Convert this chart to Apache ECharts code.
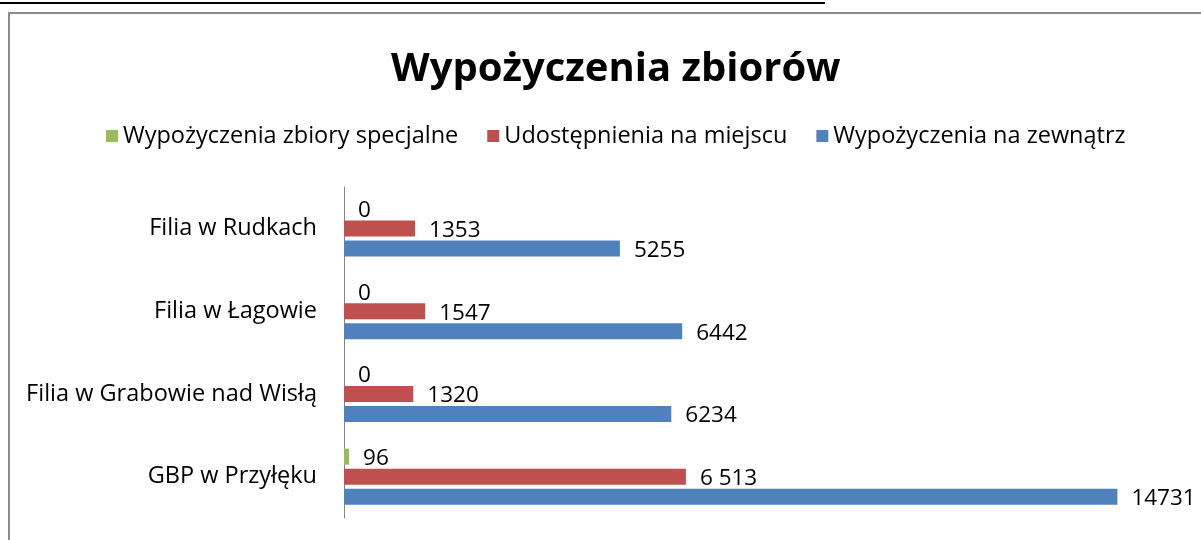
<!DOCTYPE html>
<html>
<head>
<meta charset="utf-8">
<script src="https://cdn.jsdelivr.net/npm/echarts@6/dist/echarts.min.js"></script>
<style>
  html, body { margin: 0; padding: 0; background: #fff; }
  #main { width: 1201px; height: 540px; }
</style>
</head>
<body>
<div id="main"></div>
<script>
// categories listed bottom -> top (category axis starts at the bottom)
const categories = ['GBP w Przyłęku', 'Filia w Grabowie nad Wisłą', 'Filia w Łagowie', 'Filia w Rudkach'];
const seriesNames = ['Wypożyczenia zbiory specjalne', 'Udostępnienia na miejscu', 'Wypożyczenia na zewnątrz'];

const specjalne = [96, 0, 0, 0];
const naMiejscu = [6513, 1320, 1547, 1353];
const naZewnatrz = [14731, 6234, 6442, 5255];
const naMiejscuLabels = ['6 513', '1320', '1547', '1353'];

const colors = ['#9BBB59', '#C0504D', '#4F81BD'];
const font = 'Open Sans';

const chart = echarts.init(document.getElementById('main'));

function makeSeries(name, data, color, labels) {
    return {
        name: name,
        type: 'bar',
        data: data,
        barWidth: 16,
        barGap: '25%',
        itemStyle: { color: color },
        label: {
            show: true,
            position: 'right',
            distance: 14,
            offset: [0, 2],
            color: '#000',
            fontFamily: font,
            fontSize: 22.5,
            formatter: labels ? (p => labels[p.dataIndex]) : '{c}'
        },
        emphasis: { disabled: true }
    };
}

chart.setOption({
    animation: false,
    title: {
        text: 'Wypożyczenia zbiorów',
        left: 386,
        top: 45,
        textStyle: { fontFamily: font, fontWeight: 'bold', fontSize: 40, color: '#000' }
    },
    legend: {
        data: seriesNames,
        top: 119,
        left: 101,
        itemWidth: 12,
        itemHeight: 12,
        itemGap: 29,
        icon: 'rect',
        textStyle: { fontFamily: font, fontSize: 23.5, color: '#000' }
    },
    grid: { left: 344, right: 17, top: 187, bottom: 22, containLabel: false },
    xAxis: {
        type: 'value',
        min: 0,
        max: 16000,
        show: false
    },
    yAxis: {
        type: 'category',
        data: categories,
        axisLine: { show: true, lineStyle: { color: '#868686', width: 1 } },
        axisTick: { show: false },
        axisLabel: { fontFamily: font, fontSize: 23.5, color: '#000', margin: 27 },
        splitLine: { show: false }
    },
    graphic: [
        {
            type: 'rect',
            shape: { x: 9, y: 13, width: 1400, height: 700 },
            style: { fill: 'none', stroke: '#8c8c8c', lineWidth: 2 }
        },
        {
            type: 'line',
            shape: { x1: 0, y1: 3, x2: 825, y2: 3 },
            style: { stroke: '#000', lineWidth: 2 }
        }
    ],
    series: [
        makeSeries(seriesNames[0], specjalne, colors[0]),
        makeSeries(seriesNames[1], naMiejscu, colors[1], naMiejscuLabels),
        makeSeries(seriesNames[2], naZewnatrz, colors[2])
    ]
});
</script>
</body>
</html>
